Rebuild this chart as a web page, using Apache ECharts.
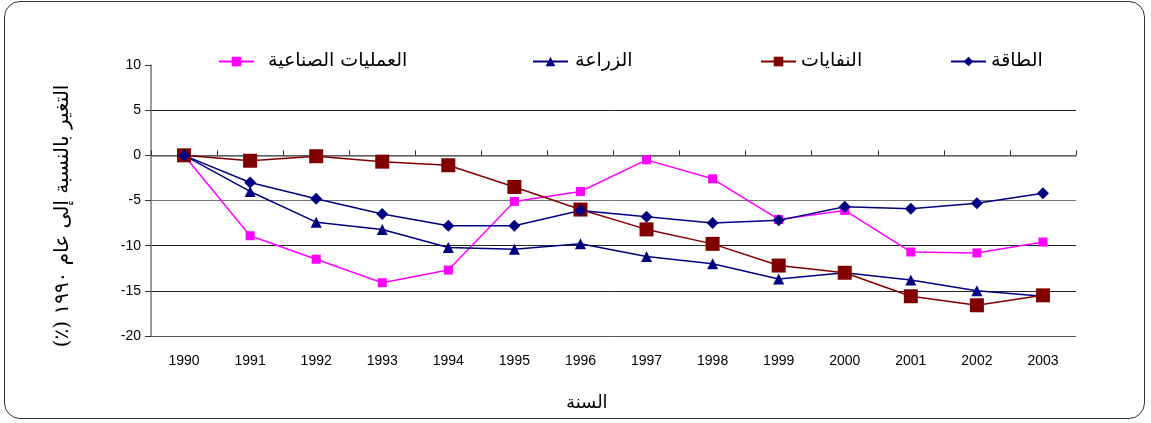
<!DOCTYPE html>
<html style="height: 100%">
<head>
  <meta charset="UTF-8" />
  <title>Emissions change</title>
  <script src="https://cdn.jsdelivr.net/npm/echarts@6/dist/echarts.min.js"></script>
  <style>
    body { margin: 0; background: #fff; }
    #frame {
      position: absolute; left: 4px; top: 1px; width: 1141px; height: 418px;
      border: 1.5px solid #333; border-radius: 16px; box-sizing: border-box;
    }
    #container { position: absolute; left: 0; top: 0; width: 1151px; height: 423px; }
  </style>
</head>
<body>
  <div id="frame"></div>
  <div id="container"></div>
  <script>
    const years = ['1990', '1991', '1992', '1993', '1994', '1995', '1996', '1997',
      '1998', '1999', '2000', '2001', '2002', '2003'];
    const industrial = [0, -8.9, -11.5, -14.1, -12.7, -5.1, -4.0, -0.5, -2.6, -7.1, -6.1, -10.7, -10.8, -9.6];
    const agriculture = [0, -4.0, -7.4, -8.2, -10.2, -10.4, -9.8, -11.2, -12.0, -13.7, -13.0, -13.8, -15.0, -15.6];
    const waste = [0, -0.6, -0.1, -0.7, -1.1, -3.5, -6.0, -8.2, -9.8, -12.2, -13.0, -15.6, -16.6, -15.5];
    const energy = [0, -3.0, -4.8, -6.5, -7.8, -7.8, -6.1, -6.8, -7.5, -7.2, -5.7, -5.9, -5.3, -4.2];

    const arFont = '"DejaVu Serif", "DejaVu Sans", serif';
    const numFont = '"Liberation Sans", Arial, sans-serif';
    // RTL embedding so the brackets land at the end of the Arabic line
    const yTitle = '\u202Bالتغير بالنسبة إلى عام ١٩٩٠ (٪)\u202C';

    function legendAt(name, left, pad) {
      return {
        data: [name], left: left, top: 47, itemWidth: 35, itemHeight: 12,
        textStyle: { fontFamily: arFont, fontSize: 19, color: '#000', padding: [0, 0, 0, pad] }
      };
    }

    const chart = echarts.init(document.getElementById('container'));
    chart.setOption({
      animation: false,
      grid: { left: 151, right: 75, top: 65, bottom: 87 },
      legend: [
        legendAt('العمليات الصناعية', 213, 9),
        legendAt('الزراعة', 527, 2),
        legendAt('النفايات', 755, 0),
        legendAt('الطاقة', 945, 0)
      ],
      graphic: [{
        type: 'text', left: 566, top: 394,
        style: { text: 'السنة', font: '18px ' + arFont, fill: '#000' }
      }, {
        type: 'text', x: 63, y: 216, rotation: Math.PI / 2,
        style: {
          text: yTitle, font: '20px ' + arFont, fill: '#000',
          align: 'center', verticalAlign: 'middle'
        }
      }],
      xAxis: [{
        type: 'category', data: years, position: 'bottom',
        axisLine: { show: false, onZero: false }, axisTick: { show: false },
        axisLabel: { margin: 18, fontFamily: numFont, fontSize: 14, color: '#000' }
      }, {
        type: 'category', data: years, position: 'bottom',
        axisLine: { onZero: true, lineStyle: { color: '#777', width: 1.5 } },
        axisTick: { show: true, inside: true, length: 5, lineStyle: { color: '#333' } },
        axisLabel: { show: false }
      }],
      yAxis: {
        type: 'value', min: -20, max: 10, interval: 5,
        axisLine: { show: true, lineStyle: { color: '#777', width: 1.5 } },
        axisTick: { show: true, length: 6, lineStyle: { color: '#333' } },
        axisLabel: { margin: 10, fontFamily: numFont, fontSize: 14, color: '#000' },
        splitLine: {
          show: true,
          lineStyle: { color: ['#555', '#222', '#222', '#777', '#222', '#222', 'rgba(0,0,0,0)'], width: 1 }
        }
      },
      series: [{
        name: 'العمليات الصناعية', type: 'line', data: industrial,
        symbol: 'rect', symbolSize: 9,
        itemStyle: { color: '#ff00ff' }, lineStyle: { color: '#ff00ff', width: 1.5 }
      }, {
        name: 'الزراعة', type: 'line', data: agriculture,
        symbol: 'triangle', symbolSize: 11,
        itemStyle: { color: '#000080' }, lineStyle: { color: '#000080', width: 1.5 }
      }, {
        name: 'النفايات', type: 'line', data: waste,
        symbol: 'rect', symbolSize: 14,
        itemStyle: { color: '#800000' }, lineStyle: { color: '#800000', width: 1.5 }
      }, {
        name: 'الطاقة', type: 'line', data: energy,
        symbol: 'diamond', symbolSize: 12,
        itemStyle: { color: '#000080' }, lineStyle: { color: '#000080', width: 1.5 }
      }]
    });
  </script>
</body>
</html>
